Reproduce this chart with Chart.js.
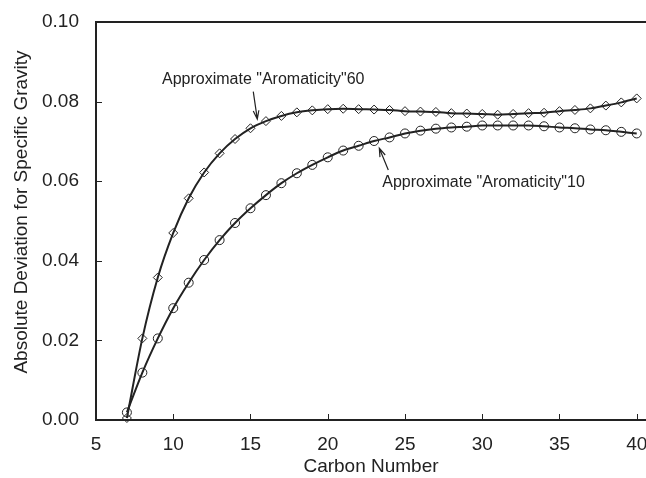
<!DOCTYPE html>
<html>
<head>
<meta charset="utf-8">
<script src="https://cdn.jsdelivr.net/npm/chart.js@4.4.1/dist/chart.umd.min.js"></script>
<style>
html,body{margin:0;padding:0;background:#fff;}
#wrap{width:646px;height:478px;position:relative;}
</style>
</head>
<body>
<div id="wrap"><canvas id="c" width="646" height="478"></canvas></div>
<script>
const carbonNumbers = [7,8,9,10,11,12,13,14,15,16,17,18,19,20,21,22,23,24,25,26,27,28,29,30,31,32,33,34,35,36,37,38,39,40];
const aromaticity60 = [0.0005,0.0205,0.0358,0.0470,0.0557,0.0622,0.0670,0.0706,0.0733,0.0751,0.0764,0.0773,0.0778,0.0781,0.0782,0.0781,0.0780,0.0779,0.0776,0.0775,0.0774,0.0771,0.0770,0.0769,0.0767,0.0769,0.0771,0.0772,0.0776,0.0779,0.0783,0.0790,0.0798,0.0808];
const aromaticity10 = [0.0019,0.0119,0.0205,0.0281,0.0345,0.0402,0.0452,0.0495,0.0532,0.0565,0.0595,0.0620,0.0641,0.0660,0.0677,0.0689,0.0701,0.0710,0.0720,0.0727,0.0732,0.0735,0.0737,0.0740,0.0740,0.0740,0.0740,0.0738,0.0735,0.0733,0.0730,0.0728,0.0724,0.0720];
const xTicks = [5,10,15,20,25,30,35,40];
const yTicks = [0.00,0.02,0.04,0.06,0.08,0.10];
const xTitle = "Carbon Number";
const yTitle = "Absolute Deviation for Specific Gravity";
const label60 = 'Approximate "Aromaticity"60';
const label10 = 'Approximate "Aromaticity"10';

const FONT = "'Liberation Sans', Arial, sans-serif";
const INK = '#222';

function pts(ys){ return carbonNumbers.map((x,i)=>({x:x,y:ys[i]})); }

const decor = {
  id:'decor',
  afterDraw(chart){
    const ctx = chart.ctx, a = chart.chartArea;
    const xs = chart.scales.x, ys = chart.scales.y;
    ctx.save();
    ctx.strokeStyle = INK; ctx.lineWidth = 2;
    // frame: top, left, bottom
    ctx.beginPath();
    ctx.moveTo(646, a.top); ctx.lineTo(a.left, a.top); ctx.lineTo(a.left, a.bottom); ctx.lineTo(646, a.bottom);
    ctx.stroke();
    ctx.lineWidth = 1;
    // inside ticks
    ctx.beginPath();
    xTicks.forEach(v=>{ const px = Math.round(xs.getPixelForValue(v))+0.5; if (v!==5){ ctx.moveTo(px,a.bottom); ctx.lineTo(px,a.bottom-6);} });
    yTicks.forEach(v=>{ const py = Math.round(ys.getPixelForValue(v))+0.5; if (v!==0 && v!==0.1){ ctx.moveTo(a.left,py); ctx.lineTo(a.left+6,py);} });
    ctx.stroke();
    // y axis title
    ctx.fillStyle = INK;
    ctx.save();
    ctx.translate(22, 212);
    ctx.rotate(-Math.PI/2);
    ctx.font = '19px ' + FONT;
    ctx.textAlign = 'center'; ctx.textBaseline = 'middle';
    ctx.fillText(yTitle, 0, 0);
    ctx.restore();
    // annotations
    ctx.font = '16px ' + FONT;
    ctx.textBaseline = 'middle';
    ctx.textAlign = 'left';
    ctx.fillText(label60, xs.getPixelForValue(9.27), ys.getPixelForValue(0.0856));
    ctx.fillText(label10, xs.getPixelForValue(23.53), ys.getPixelForValue(0.0596));
    function arrow(x1,y1,x2,y2){
      const p1x = xs.getPixelForValue(x1), p1y = ys.getPixelForValue(y1);
      const p2x = xs.getPixelForValue(x2), p2y = ys.getPixelForValue(y2);
      const ang = Math.atan2(p2y-p1y, p2x-p1x);
      ctx.beginPath();
      ctx.moveTo(p1x,p1y); ctx.lineTo(p2x,p2y);
      const L = 9, w = 0.32;
      ctx.moveTo(p2x - L*Math.cos(ang-w), p2y - L*Math.sin(ang-w));
      ctx.lineTo(p2x,p2y);
      ctx.lineTo(p2x - L*Math.cos(ang+w), p2y - L*Math.sin(ang+w));
      ctx.stroke();
    }
    ctx.lineWidth = 1.2;
    arrow(15.18,0.0825,15.44,0.0756);
    arrow(23.92,0.0628,23.34,0.0683);
    ctx.restore();
  }
};

new Chart(document.getElementById('c'), {
  type:'scatter',
  data:{
    datasets:[
      {label:label60, data:pts(aromaticity60), showLine:true, borderColor:INK, borderWidth:2, clip:false,
       pointStyle:'rectRot', pointRadius:4.5, pointBorderWidth:1, pointBackgroundColor:'rgba(255,255,255,0)', pointBorderColor:INK, tension:0.3, cubicInterpolationMode:'monotone'},
      {label:label10, data:pts(aromaticity10), showLine:true, borderColor:INK, borderWidth:2, clip:false,
       pointStyle:'circle', pointRadius:4.5, pointBorderWidth:1, pointBackgroundColor:'rgba(255,255,255,0)', pointBorderColor:INK, tension:0.3, cubicInterpolationMode:'monotone'}
    ]
  },
  options:{
    responsive:false, animation:false, devicePixelRatio:1,
    layout:{autoPadding:false, padding:{left:0,right:0,top:22,bottom:0}},
    plugins:{legend:{display:false}, tooltip:{enabled:false}},
    scales:{
      x:{type:'linear', min:5, max:40.6,
        afterBuildTicks(s){ s.ticks = xTicks.map(v=>({value:v})); },
        afterFit(s){ s.height = 58; s.paddingLeft = 0; s.paddingRight = 0; },
        grid:{display:false, drawTicks:false}, border:{display:false},
        ticks:{color:INK, font:{family:FONT,size:19}, padding:13, maxRotation:0, autoSkip:false, callback:v=>String(v)},
        title:{display:true, text:xTitle, color:INK, font:{family:FONT,size:19}, padding:{top:2,bottom:0}}
      },
      y:{type:'linear', min:0, max:0.1,
        afterBuildTicks(s){ s.ticks = yTicks.map(v=>({value:v})); },
        afterFit(s){ s.width = 96; s.paddingTop = 0; s.paddingBottom = 0; },
        grid:{display:false, drawTicks:false}, border:{display:false},
        ticks:{color:INK, font:{family:FONT,size:19}, padding:17, autoSkip:false, callback:v=>Number(v).toFixed(2)},
        title:{display:false}
      }
    }
  },
  plugins:[decor]
});
</script>
</body>
</html>
